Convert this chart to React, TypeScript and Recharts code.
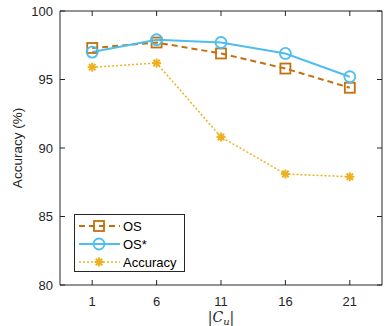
import React from "react";
import { LineChart, Line, XAxis, YAxis } from "recharts";

const cuValues = [1, 6, 11, 16, 21];
const osValues = [97.3, 97.7, 96.9, 95.8, 94.4];
const osStarValues = [97.0, 97.9, 97.7, 96.9, 95.2];
const accuracyValues = [95.9, 96.2, 90.8, 88.1, 87.9];
const yTicks = [80, 85, 90, 95, 100];

const OS_COLOR = "#C2700F";
const OS_STAR_COLOR = "#4DBEEE";
const ACC_COLOR = "#EDB120";
const AXIS_COLOR = "#262626";
const FONT = "'Liberation Sans', Arial, sans-serif";

const data = cuValues.map((cu, i) => ({
  cu,
  os: osValues[i],
  osStar: osStarValues[i],
  accuracy: accuracyValues[i],
}));

const SquareDot = ({ cx, cy }: any) => (
  <rect x={cx - 5} y={cy - 5} width={10} height={10} fill="none" stroke={OS_COLOR} strokeWidth={1.8} />
);

const CircleDot = ({ cx, cy }: any) => (
  <circle cx={cx} cy={cy} r={5.5} fill="none" stroke={OS_STAR_COLOR} strokeWidth={1.8} />
);

const StarDot = ({ cx, cy }: any) => {
  const r = 4.5;
  const d = r * 0.72;
  return (
    <g stroke={ACC_COLOR} strokeWidth={2}>
      <line x1={cx - r} y1={cy} x2={cx + r} y2={cy} />
      <line x1={cx} y1={cy - r} x2={cx} y2={cy + r} />
      <line x1={cx - d} y1={cy - d} x2={cx + d} y2={cy + d} />
      <line x1={cx - d} y1={cy + d} x2={cx + d} y2={cy - d} />
    </g>
  );
};

// ticks point inward, like a matlab box
const LeftTick = ({ x, y, payload }: any) => (
  <g>
    <line x1={x} y1={y} x2={x + 5} y2={y} stroke={AXIS_COLOR} />
    <text x={x - 7} y={y + 4.5} textAnchor="end" fontSize={13} fill={AXIS_COLOR} fontFamily={FONT}>
      {payload.value}
    </text>
  </g>
);

const RightTick = ({ x, y }: any) => <line x1={x} y1={y} x2={x - 5} y2={y} stroke={AXIS_COLOR} />;

const BottomTick = ({ x, y, payload }: any) => (
  <g>
    <line x1={x} y1={y} x2={x} y2={y - 5} stroke={AXIS_COLOR} />
    <text x={x} y={y + 21} textAnchor="middle" fontSize={13} fill={AXIS_COLOR} fontFamily={FONT}>
      {payload.value}
    </text>
  </g>
);

const TopTick = ({ x, y }: any) => <line x1={x} y1={y} x2={x} y2={y + 5} stroke={AXIS_COLOR} />;

const legendItems = [
  { label: "OS", color: OS_COLOR, dash: "6 4", width: 2, Dot: SquareDot },
  { label: "OS*", color: OS_STAR_COLOR, dash: undefined, width: 2, Dot: CircleDot },
  { label: "Accuracy", color: ACC_COLOR, dash: "2 2", width: 1.5, Dot: StarDot },
];

const LegendBox = () => (
  <svg width={111} height={58} style={{ display: "block" }}>
    <rect x={0.5} y={0.5} width={110} height={57} fill="#fff" stroke={AXIS_COLOR} />
    {legendItems.map((item, i) => {
      const y = 12 + i * 18;
      const Dot = item.Dot;
      return (
        <g key={item.label}>
          <line x1={5} y1={y} x2={46} y2={y} stroke={item.color} strokeWidth={item.width} strokeDasharray={item.dash} />
          <Dot cx={25} cy={y} />
          <text x={49} y={y + 5} fontSize={13} fill="#000" fontFamily={FONT}>
            {item.label}
          </text>
        </g>
      );
    })}
  </svg>
);

export default function App() {
  return (
    <div style={{ position: "absolute", left: 0, top: 0, width: 384, height: 326, background: "#fff" }}>
      <LineChart width={384} height={326} data={data} margin={{ top: 10, right: 1, left: 10, bottom: 11 }}>
        <XAxis
          xAxisId="b"
          dataKey="cu"
          type="number"
          domain={[-1.5, 23.5]}
          ticks={cuValues}
          height={30}
          tickSize={0}
          tickMargin={0}
          tick={<BottomTick />}
          stroke={AXIS_COLOR}
          allowDataOverflow
        />
        <XAxis
          xAxisId="t"
          orientation="top"
          dataKey="cu"
          type="number"
          domain={[-1.5, 23.5]}
          ticks={cuValues}
          height={1}
          tickSize={0}
          tickMargin={0}
          tick={<TopTick />}
          stroke={AXIS_COLOR}
          allowDataOverflow
        />
        <YAxis
          yAxisId="l"
          type="number"
          domain={[80, 100]}
          ticks={yTicks}
          width={50}
          tickSize={0}
          tickMargin={0}
          tick={<LeftTick />}
          stroke={AXIS_COLOR}
          allowDataOverflow
        />
        <YAxis
          yAxisId="r"
          orientation="right"
          type="number"
          domain={[80, 100]}
          ticks={yTicks}
          width={1}
          tickSize={0}
          tickMargin={0}
          tick={<RightTick />}
          stroke={AXIS_COLOR}
          allowDataOverflow
        />
        <Line
          xAxisId="b"
          yAxisId="l"
          dataKey="accuracy"
          stroke={ACC_COLOR}
          strokeWidth={1.5}
          strokeDasharray="2 2"
          dot={<StarDot />}
          isAnimationActive={false}
        />
        <Line
          xAxisId="b"
          yAxisId="l"
          dataKey="os"
          stroke={OS_COLOR}
          strokeWidth={2}
          strokeDasharray="6 4"
          dot={<SquareDot />}
          isAnimationActive={false}
        />
        <Line
          xAxisId="b"
          yAxisId="l"
          dataKey="osStar"
          stroke={OS_STAR_COLOR}
          strokeWidth={2}
          dot={<CircleDot />}
          isAnimationActive={false}
        />
        <text
          x={22}
          y={148}
          transform="rotate(-90 22 148)"
          textAnchor="middle"
          fontSize={13.5}
          fill={AXIS_COLOR}
          fontFamily={FONT}
        >
          Accuracy (%)
        </text>
        <text x={221} y={322} textAnchor="middle" fontSize={14} fill={AXIS_COLOR} fontFamily="'DejaVu Serif', serif">
          |<tspan fontStyle="italic">C</tspan>
          <tspan fontStyle="italic" fontSize={10} dy={3}>u</tspan>
          <tspan dy={-3}>|</tspan>
        </text>
      </LineChart>
      <div style={{ position: "absolute", left: 74, top: 214 }}>
        <LegendBox />
      </div>
    </div>
  );
}
